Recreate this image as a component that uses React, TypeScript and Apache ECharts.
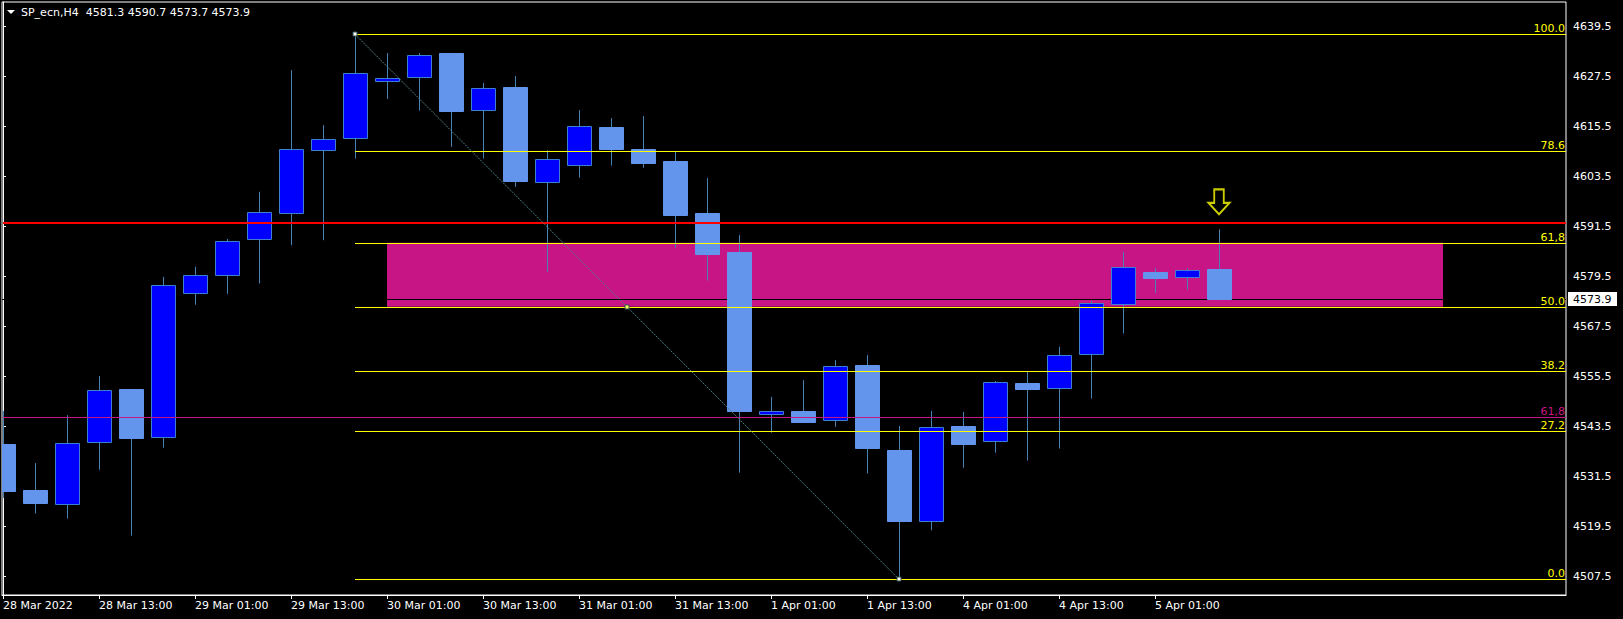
import { useEffect, useRef } from 'react';
import * as echarts from 'echarts';

const symbolName = 'SP_ecn,H4';

// x-axis tick positions (bar index) and their labels
const xTickIdx = [0, 3, 6, 9, 12, 15, 18, 21, 24, 27, 30, 33, 36];
const xTickLabels = [
  '28 Mar 2022', '28 Mar 13:00', '29 Mar 01:00', '29 Mar 13:00', '30 Mar 01:00',
  '30 Mar 13:00', '31 Mar 01:00', '31 Mar 13:00', '1 Apr 01:00', '1 Apr 13:00',
  '4 Apr 01:00', '4 Apr 13:00', '5 Apr 01:00',
];

// H4 candles, 28 Mar 01:00 .. 5 Apr 09:00
const opens = [
  4539.2, 4528.1, 4524.7, 4539.6, 4552.4, 4540.8, 4575.5, 4579.8, 4588.3, 4594.6,
  4609.7, 4612.6, 4626.4, 4627.2, 4633.0, 4619.3, 4624.9, 4602.0, 4606.1, 4615.3,
  4610.0, 4607.1, 4594.6, 4585.3, 4546.3, 4547.1, 4544.9, 4558.1, 4537.7, 4520.6,
  4543.5, 4539.8, 4553.8, 4552.6, 4560.7, 4572.7, 4580.5, 4579.3, 4581.3,
];
const highs = [
  4547.1, 4534.6, 4546.1, 4555.5, 4552.4, 4579.3, 4581.7, 4588.4, 4599.7, 4628.9,
  4615.7, 4637.5, 4633.0, 4633.0, 4633.0, 4625.8, 4627.5, 4609.7, 4619.3, 4617.4,
  4617.9, 4609.3, 4603.0, 4589.3, 4550.5, 4554.5, 4559.3, 4560.5, 4543.5, 4547.1,
  4546.9, 4554.3, 4556.5, 4562.5, 4573.5, 4585.3, 4581.4, 4581.4, 4590.7,
];
const lows = [
  4526.2, 4522.5, 4521.3, 4533.0, 4517.2, 4538.3, 4572.6, 4575.2, 4577.7, 4586.9,
  4588.1, 4607.7, 4622.0, 4619.2, 4610.5, 4607.7, 4600.9, 4580.5, 4603.1, 4606.0,
  4605.5, 4586.3, 4578.4, 4532.3, 4541.9, 4544.5, 4543.3, 4532.1, 4506.7, 4518.5,
  4533.5, 4537.1, 4535.2, 4538.1, 4550.1, 4565.7, 4575.5, 4576.2, 4573.7,
];
const closes = [
  4528.0, 4525.1, 4539.4, 4552.1, 4540.7, 4577.3, 4579.7, 4587.8, 4594.8, 4610.0,
  4612.3, 4628.2, 4627.0, 4632.5, 4619.2, 4624.6, 4602.4, 4607.5, 4615.4, 4610.1,
  4606.7, 4594.2, 4584.9, 4547.2, 4547.0, 4544.5, 4557.8, 4538.1, 4520.8, 4543.2,
  4539.3, 4554.0, 4552.5, 4560.5, 4573.0, 4581.6, 4579.1, 4580.9, 4573.9,
];

// price axis ticks
const yTicks = [4507.5, 4519.5, 4531.5, 4543.5, 4555.5, 4567.5, 4579.5, 4591.5, 4603.5, 4615.5, 4627.5, 4639.5];

// Fibonacci retracement object
const fibHighIdx = 11;
const fibLowIdx = 28;
const fibHigh = 4637.5;
const fibLow = 4506.7;
const fibLevels = [0, 27.2, 38.2, 50, 61.8, 78.6, 100];
const fibLabels = ['0.0', '27.2', '38.2', '50.0', '61,8', '78.6', '100.0'];

// zone rectangle between fib 61.8 and 50.0
const zoneStartIdx = 12;
const zoneEndIdx = 45;
const zoneTop = 4587.5;
const zoneBottom = 4572.1;

// horizontal lines
const redLevel = 4592.2;
const magentaLevel = 4545.6;
const magentaLabel = '61,8';
const bidPrice = 4573.9;

// arrow marker
const arrowIdx = 38;
const arrowPrice = 4597.3;

const FONT = '11px "DejaVu Sans"';

export default function App() {
  const ref = useRef<HTMLDivElement>(null);

  useEffect(() => {
    if (!ref.current) return;
    const chart = echarts.init(ref.current, null, { renderer: 'svg' });
    const last = opens.length - 1;
    const candleData = opens.map((o, i) => [i, o, closes[i], lows[i], highs[i]]);
    const fibData = fibLevels.map((lv, i) => [fibHighIdx, fibLow + ((fibHigh - fibLow) * lv) / 100, i]);

    const option: any = {
      animation: false,
      backgroundColor: '#000000',
      grid: {
        left: 2, top: 2, right: 57, bottom: 24,
        show: true, borderColor: '#ffffff', borderWidth: 1, backgroundColor: 'transparent',
      },
      xAxis: {
        type: 'value',
        min: -1 / 32,
        max: 48.84375,
        splitLine: { show: false },
        axisLine: { show: true, lineStyle: { color: '#ffffff' } },
        axisTick: { show: true, length: 4, customValues: xTickIdx, lineStyle: { color: '#ffffff' } },
        axisLabel: {
          customValues: xTickIdx,
          color: '#ffffff',
          fontFamily: 'DejaVu Sans',
          fontSize: 11,
          align: 'left',
          margin: 5,
          formatter: (v: number) => {
            const i = xTickIdx.indexOf(Math.round(v));
            return i >= 0 ? xTickLabels[i] : '';
          },
        },
      },
      yAxis: {
        type: 'value',
        position: 'right',
        min: 4502.94,
        max: 4645.26,
        splitLine: { show: false },
        axisLine: { show: true, lineStyle: { color: '#ffffff' } },
        axisTick: { show: true, length: 3, customValues: yTicks, lineStyle: { color: '#ffffff' } },
        axisLabel: {
          customValues: yTicks,
          color: '#ffffff',
          fontFamily: 'DejaVu Sans',
          fontSize: 11,
          margin: 7,
          formatter: (v: number) => v.toFixed(1),
        },
      },
      graphic: [
        {
          type: 'polygon',
          shape: { points: [[7, 10], [15, 10], [11, 14]] },
          style: { fill: '#ffffff' },
          z: 100,
        },
        {
          type: 'text',
          x: 21,
          y: 12.5,
          style: {
            text: `${symbolName}\u00A0\u00A0${opens[last].toFixed(1)}\u00A0${highs[last].toFixed(1)}\u00A0${lows[last].toFixed(1)}\u00A0${closes[last].toFixed(1)}`,
            fill: '#ffffff',
            font: FONT,
            textVerticalAlign: 'middle',
            verticalAlign: 'middle',
          },
          z: 100,
        },
      ],
      series: [
        // zone rectangle + bid line
        {
          type: 'custom',
          z: 1,
          clip: true,
          data: [[zoneStartIdx, zoneTop, zoneEndIdx, zoneBottom]],
          renderItem: (params: any, api: any) => {
            const p1 = api.coord([api.value(0), api.value(1)]);
            const p2 = api.coord([api.value(2), api.value(3)]);
            const cs = params.coordSys;
            const by = Math.round(api.coord([0, bidPrice])[1]) + 0.5;
            return {
              type: 'group',
              children: [
                {
                  type: 'rect',
                  shape: { x: p1[0], y: p1[1], width: p2[0] - p1[0], height: p2[1] - p1[1] },
                  style: { fill: '#C71585' },
                },
                {
                  type: 'line',
                  shape: { x1: cs.x, y1: by, x2: cs.x + cs.width, y2: by },
                  style: { stroke: '#000000', lineWidth: 1 },
                },
              ],
            };
          },
        },
        // candles
        {
          type: 'custom',
          z: 2,
          clip: true,
          data: candleData,
          encode: { x: 0, y: [1, 2, 3, 4] },
          renderItem: (params: any, api: any) => {
            const k = api.value(0);
            const o = api.value(1);
            const c = api.value(2);
            const l = api.value(3);
            const h = api.value(4);
            const pO = api.coord([k, o]);
            const pC = api.coord([k, c]);
            const pL = api.coord([k, l]);
            const pH = api.coord([k, h]);
            const x0 = Math.round(pO[0]);
            const top = Math.round(Math.min(pO[1], pC[1])) + 0.5;
            const bot = Math.round(Math.max(pO[1], pC[1])) + 0.5;
            const bull = c >= o;
            return {
              type: 'group',
              children: [
                {
                  type: 'line',
                  shape: { x1: x0 + 0.5, y1: pH[1], x2: x0 + 0.5, y2: pL[1] },
                  style: { stroke: '#4682B4', lineWidth: 1 },
                },
                {
                  type: 'rect',
                  shape: { x: x0 - 11.5, y: top, width: 24, height: Math.max(bot - top, 1) },
                  style: bull
                    ? { fill: '#0000FF', stroke: '#3F7FCF', lineWidth: 1 }
                    : { fill: '#6495ED', stroke: '#6495ED', lineWidth: 1 },
                },
              ],
            };
          },
        },
        // full-width horizontal lines (red, magenta)
        {
          type: 'custom',
          z: 3,
          clip: false,
          data: [[0, redLevel, 0], [0, magentaLevel, 1]],
          renderItem: (params: any, api: any) => {
            const cs = params.coordSys;
            const kind = api.value(2);
            const yRaw = api.coord([0, api.value(1)])[1];
            const right = cs.x + cs.width;
            if (kind === 0) {
              const y = Math.round(yRaw);
              return {
                type: 'line',
                shape: { x1: cs.x + 1, y1: y, x2: right, y2: y },
                style: { stroke: '#FF0000', lineWidth: 2 },
              };
            }
            const y = Math.round(yRaw) + 0.5;
            return {
              type: 'group',
              children: [
                {
                  type: 'line',
                  shape: { x1: cs.x + 1, y1: y, x2: right, y2: y },
                  style: { stroke: '#C71585', lineWidth: 1 },
                },
                {
                  type: 'text',
                  x: right - 1,
                  y: y - 1,
                  style: {
                    text: magentaLabel, fill: '#C71585', font: FONT,
                    textAlign: 'right', align: 'right', textVerticalAlign: 'bottom', verticalAlign: 'bottom',
                  },
                },
              ],
            };
          },
        },
        // fibonacci levels
        {
          type: 'custom',
          z: 4,
          clip: false,
          data: fibData,
          renderItem: (params: any, api: any) => {
            const cs = params.coordSys;
            const p = api.coord([api.value(0), api.value(1)]);
            const idx = api.value(2);
            const right = cs.x + cs.width;
            const y = Math.round(p[1]) + 0.5;
            return {
              type: 'group',
              children: [
                {
                  type: 'line',
                  shape: { x1: Math.round(p[0]), y1: y, x2: right, y2: y },
                  style: { stroke: '#FFFF00', lineWidth: 1 },
                },
                {
                  type: 'text',
                  x: right - 1,
                  y: y - 1,
                  style: {
                    text: fibLabels[idx], fill: '#FFFF00', font: FONT,
                    textAlign: 'right', align: 'right', textVerticalAlign: 'bottom', verticalAlign: 'bottom',
                  },
                },
              ],
            };
          },
        },
        // fib diagonal with anchor points
        {
          type: 'custom',
          z: 5,
          clip: false,
          data: [[fibHighIdx, fibHigh, fibLowIdx, fibLow]],
          renderItem: (params: any, api: any) => {
            const a = api.coord([api.value(0), api.value(1)]);
            const b = api.coord([api.value(2), api.value(3)]);
            const m = api.coord([(api.value(0) + api.value(2)) / 2, (api.value(1) + api.value(3)) / 2]);
            const sq = (p: number[], fill: string) => ({
              type: 'rect',
              shape: { x: Math.round(p[0]) - 2, y: Math.round(p[1]) - 2, width: 4, height: 4 },
              style: { fill, stroke: '#2F4F4F', lineWidth: 1 },
            });
            return {
              type: 'group',
              children: [
                {
                  type: 'line',
                  shape: { x1: a[0], y1: a[1], x2: b[0], y2: b[1] },
                  style: { stroke: '#4F8080', lineWidth: 1, lineDash: [2, 1] },
                },
                sq(a, '#FFFFFF'),
                sq(m, '#FFFF66'),
                sq(b, '#FFFFFF'),
              ],
            };
          },
        },
        // current bid price label on the price axis
        {
          type: 'custom',
          z: 6,
          clip: false,
          data: [[0, bidPrice]],
          renderItem: (params: any, api: any) => {
            const cs = params.coordSys;
            const y = Math.round(api.coord([0, api.value(1)])[1]);
            const right = cs.x + cs.width;
            return {
              type: 'group',
              children: [
                {
                  type: 'rect',
                  shape: { x: right + 2, y: y - 7, width: 49, height: 14 },
                  style: { fill: '#FFFFFF' },
                },
                {
                  type: 'text',
                  x: right + 7,
                  y: y,
                  style: {
                    text: api.value(1).toFixed(1), fill: '#000000', font: FONT,
                    textVerticalAlign: 'middle', verticalAlign: 'middle',
                  },
                },
              ],
            };
          },
        },
        // arrow marker
        {
          type: 'scatter',
          z: 7,
          data: [[arrowIdx, arrowPrice]],
          symbol: 'path://M6,0L16,0L16,14L22,14L11,26L0,14L6,14Z',
          symbolSize: [21, 25],
          itemStyle: { color: 'rgba(0,0,0,0)', borderColor: '#FFFF00', borderWidth: 2 },
          silent: true,
        },
      ],
    };

    chart.setOption(option);
    return () => chart.dispose();
  }, []);

  return (
    <div style={{ position: 'fixed', left: 0, top: 0, width: 1623, height: 619, background: '#000' }}>
      <div ref={ref} style={{ width: 1623, height: 619 }} />
    </div>
  );
}
